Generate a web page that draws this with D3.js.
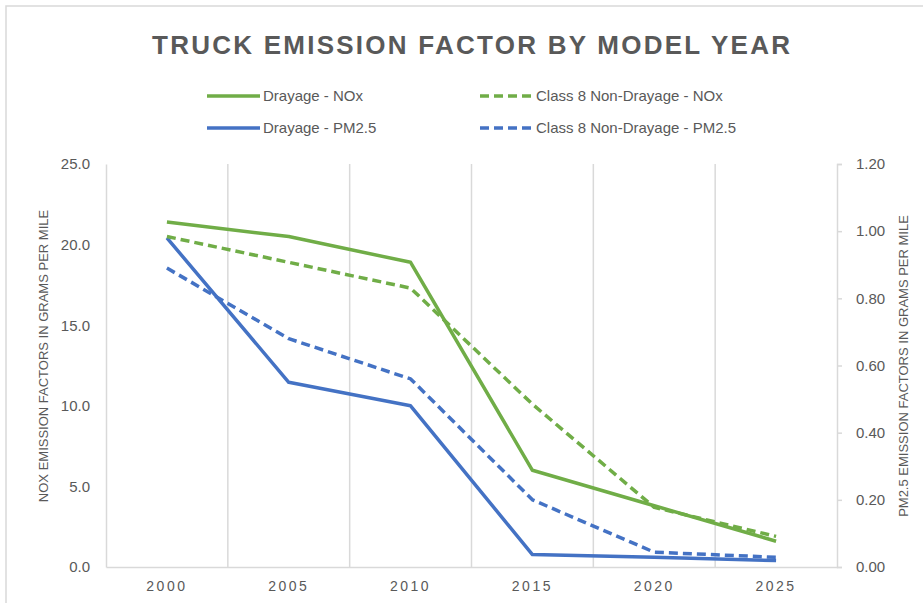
<!DOCTYPE html>
<html>
<head>
<meta charset="utf-8">
<script src="https://cdn.jsdelivr.net/npm/d3@7"></script>
<style>
  body { margin: 0; background: #fff; }
  svg text { font-family: "Liberation Sans Narrow", "Liberation Sans", Arial, sans-serif; fill: #595959; }
</style>
</head>
<body>
<div class="chart"></div>
<script>
// categories and series
const years = ["2000", "2005", "2010", "2015", "2020", "2025"];
const drayageNox = [21.4, 20.5, 18.9, 6.0, 3.8, 1.6];
const nonDrayageNox = [20.5, 18.9, 17.3, 10.1, 3.7, 1.9];
const drayagePm = [0.98, 0.55, 0.48, 0.037, 0.029, 0.019];
const nonDrayagePm = [0.89, 0.68, 0.56, 0.20, 0.044, 0.029];
const noxTicks = [0, 5, 10, 15, 20, 25];
const pmTicks = [0, 0.2, 0.4, 0.6, 0.8, 1.0, 1.2];

const W = 923, H = 603;
const margin = { top: 164, right: 86, bottom: 36, left: 106 };
const width = W - margin.left - margin.right;
const height = H - margin.top - margin.bottom;

const green = "#70AD47", blue = "#4472C4", grid = "#d9d9d9";

const svg = d3.select(".chart").append("svg")
    .attr("width", W)
    .attr("height", H);

// chart border (runs off the right and bottom edges)
svg.append("rect")
    .attr("x", 6).attr("y", 6)
    .attr("width", W + 20).attr("height", H + 20)
    .attr("fill", "none")
    .attr("stroke", grid)
    .attr("stroke-width", 1.5);

// title
svg.append("text")
    .attr("x", 152).attr("y", 54)
    .attr("textLength", 638)
    .attr("lengthAdjust", "spacing")
    .style("font-size", "26px")
    .style("font-weight", "bold")
    .text("TRUCK EMISSION FACTOR BY MODEL YEAR");

const g = svg.append("g")
    .attr("transform", "translate(" + margin.left + "," + margin.top + ")");

// scales
const x = d3.scaleBand().domain(years).range([0, width]).padding(0);
const yL = d3.scaleLinear().domain([0, 25]).range([height, 0]);
const yR = d3.scaleLinear().domain([0, 1.2]).range([height, 0]);

// vertical gridlines between categories
g.selectAll(".vgrid")
    .data(years.slice(1))
    .enter().append("line")
    .attr("class", "vgrid")
    .attr("x1", d => x(d)).attr("x2", d => x(d))
    .attr("y1", 0).attr("y2", height)
    .attr("stroke", grid)
    .attr("stroke-width", 1.5);

// left axis
const yAxisL = d3.axisLeft(yL).tickValues(noxTicks).tickFormat(d3.format(".1f")).tickSize(0).tickPadding(16);
const gl = g.append("g").call(yAxisL);
gl.select(".domain").attr("stroke", grid).attr("stroke-width", 1.5);
gl.selectAll("text").style("font-size", "15px").attr("fill", "#595959");

// right axis
const yAxisR = d3.axisRight(yR).tickValues(pmTicks).tickFormat(d3.format(".2f")).tickSize(5).tickSizeOuter(5).tickPadding(14);
const gr = g.append("g").attr("transform", "translate(" + width + ",0)").call(yAxisR);
gr.select(".domain").attr("stroke", grid).attr("stroke-width", 1.5);
gr.selectAll(".tick line").attr("stroke", grid).attr("stroke-width", 1.5);
gr.selectAll("text").style("font-size", "15px").attr("fill", "#595959");

// bottom axis
const xAxis = d3.axisBottom(x).tickSize(0).tickPadding(14);
const gx = g.append("g").attr("transform", "translate(0," + height + ")").call(xAxis);
gx.select(".domain").attr("stroke", grid).attr("stroke-width", 1.5);
gx.selectAll("text").style("font-size", "14px").style("letter-spacing", "2.5px").attr("fill", "#595959");

// axis titles
svg.append("text")
    .attr("transform", "translate(48,356)rotate(-90)")
    .attr("text-anchor", "middle")
    .style("font-size", "13px")
    .text("NOX EMISSION FACTORS IN GRAMS PER MILE");

svg.append("text")
    .attr("transform", "translate(908,366)rotate(-90)")
    .attr("text-anchor", "middle")
    .style("font-size", "13px")
    .text("PM2.5 EMISSION FACTORS IN GRAMS PER MILE");

// series
const series = [
    { name: "Drayage - NOx", values: drayageNox, scale: yL, color: green, dash: null },
    { name: "Class 8 Non-Drayage - NOx", values: nonDrayageNox, scale: yL, color: green, dash: "9,5" },
    { name: "Drayage - PM2.5", values: drayagePm, scale: yR, color: blue, dash: null },
    { name: "Class 8 Non-Drayage - PM2.5", values: nonDrayagePm, scale: yR, color: blue, dash: "9,5" }
];

const cx = d => x(d) + x.bandwidth() / 2;

// draw PM lines first, NOx on top like the original
[series[3], series[2], series[1], series[0]].forEach(s => {
    const line = d3.line()
        .x((d, i) => cx(years[i]))
        .y(d => s.scale(d));
    g.append("path")
        .datum(s.values)
        .attr("d", line)
        .attr("fill", "none")
        .attr("stroke", s.color)
        .attr("stroke-width", 3.5)
        .attr("stroke-linejoin", "round")
        .attr("stroke-dasharray", s.dash);
});

// legend
const legendPos = [
    { x: 207, y: 96 }, { x: 480, y: 96 },
    { x: 207, y: 128 }, { x: 480, y: 128 }
];
series.forEach((s, i) => {
    const p = legendPos[i];
    svg.append("line")
        .attr("x1", p.x).attr("x2", p.x + 53)
        .attr("y1", p.y).attr("y2", p.y)
        .attr("stroke", s.color)
        .attr("stroke-width", 3.5)
        .attr("stroke-dasharray", s.dash);
    svg.append("text")
        .attr("x", p.x + 56).attr("y", p.y)
        .attr("dy", "0.35em")
        .style("font-size", "15px")
        .text(s.name);
});
</script>
</body>
</html>
